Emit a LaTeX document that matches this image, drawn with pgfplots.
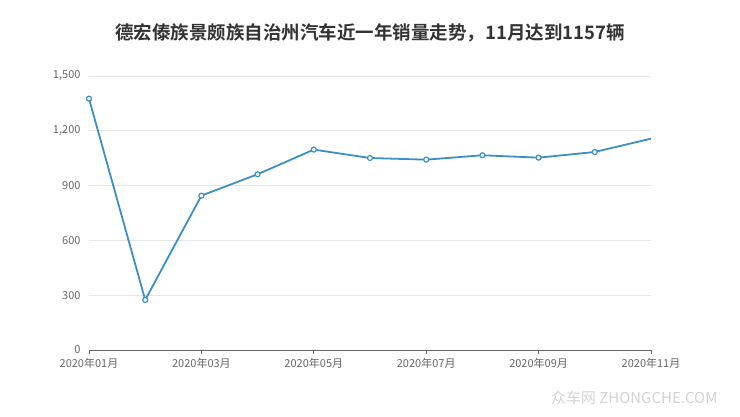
\documentclass[border=0pt]{standalone}
\usepackage{pgfplots}
\pgfplotsset{compat=1.18}
\usetikzlibrary{calc}
\usepackage{fontspec}
\setmainfont{Noto Sans CJK SC}
\newfontfamily\titlefont{Noto Sans CJK SC Bold}
\definecolor{linecol}{HTML}{3C8FC6}
\definecolor{gridcol}{HTML}{E6E6E6}
\definecolor{tickcol}{HTML}{666666}
\definecolor{titlecol}{HTML}{333333}

\begin{document}
\begin{tikzpicture}[x=1pt,y=1pt]
    \begin{axis}[
        scale only axis,
        width=562pt, height=274pt,
        xmin=1, xmax=11,
        ymin=0, ymax=1500,
        xtick={1,3,5,7,9,11},
        xticklabels={2020年01月,2020年03月,2020年05月,2020年07月,2020年09月,2020年11月},
        ytick={0,300,600,900,1200,1500},
        /pgf/number format/assume math mode=true,
        /pgf/number format/1000 sep={,},
        ymajorgrids,
        grid style={gridcol, line width=0.8pt},
        axis x line*=bottom,
        axis y line*=left,
        y axis line style={draw=none},
        x axis line style={tickcol, line width=0.9pt, -},
        xtick style={tickcol, line width=0.9pt},
        tick align=outside,
        major tick length=4pt,
        ytick style={draw=none},
        ticklabel style={font=\fontsize{11}{13}\selectfont, text=tickcol},
        yticklabel style={xshift=-1pt},
        xticklabel style={yshift=-1pt},
        clip=false,
        ]
        \addplot[linecol, line width=1.8pt,
            mark=*, mark size=2.5pt, mark indices={1,...,10},
            mark options={fill=white, draw=linecol, line width=1.2pt}]
        coordinates {
            (1,1376) (2,274) (3,845) (4,962) (5,1097) (6,1051)
            (7,1042) (8,1066) (9,1053) (10,1084) (11,1157)
        };
    \end{axis}
    \path[use as bounding box] (current axis.south west) ++(-89pt,-67pt) rectangle ++(740pt,417pt);
    \node[font=\titlefont\fontsize{18.5}{22}\selectfont, text=titlecol]
        at ($(current axis.south west)+(281pt,317pt)$) {德宏傣族景颇族自治州汽车近一年销量走势，11月达到1157辆};
    \node[font=\fontsize{15}{17}\selectfont, text=gray!35, anchor=east]
        at ($(current axis.south west)+(632pt,-48pt)$) {众车网 ZHONGCHE.COM};
\end{tikzpicture}
\end{document}
